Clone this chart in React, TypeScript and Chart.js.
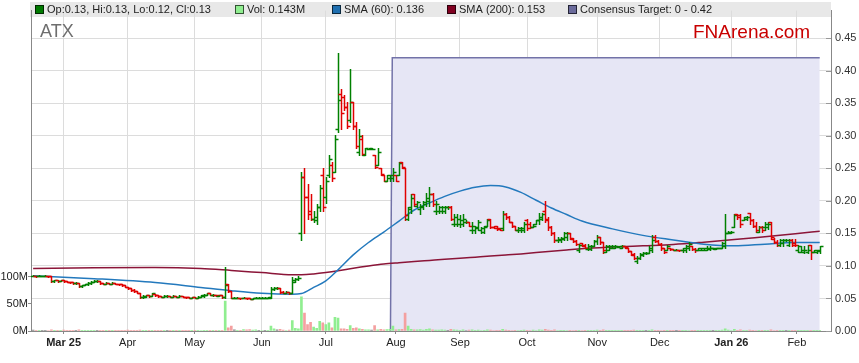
import React, { useEffect, useRef } from "react";
import { Chart, registerables } from "chart.js";
Chart.register(...registerables);

// ---- Data (trading-day index 0 = 17 Feb 2025 ... 258 = 12 Feb 2026) ----
const monthIdx = [10, 31, 53, 75, 96, 119, 140, 162, 185, 205.5, 229, 250.5];
const monthLabels = ["Mar 25", "Apr", "May", "Jun", "Jul", "Aug", "Sep", "Oct", "Nov", "Dec", "Jan 26", "Feb"];

const opens = [
  .085,.085,.084,.085,.085,.085,.084,.077,.078,.077,
  .078,.077,.076,.075,.074,.074,.069,.070,.072,.074,
  .076,.077,.077,.074,.073,.074,.073,.074,.073,.072,
  .070,.068,.066,.063,.061,.059,.052,.053,.055,.054,
  .057,.055,.054,.053,.054,.054,.053,.054,.053,.054,
  .053,.052,.051,.052,.051,.053,.054,.055,.058,.055,
  .056,.054,.055,.052,.072,.062,.051,.050,.051,.050,
  .051,.050,.049,.050,.051,.050,.051,.051,.051,.064,
  .066,.066,.060,.059,.060,.059,.076,.080,.150,.236,
  .206,.185,.172,.170,.190,.240,.206,.240,.255,.245,
  .310,.365,.360,.345,.325,.352,.315,.275,.295,.270,
  .280,.280,.270,.255,.250,.240,.230,.235,.235,.240,
  .240,.260,.250,.172,.190,.210,.192,.188,.190,.195,
  .200,.210,.185,.185,.185,.185,.190,.190,.165,.165,
  .165,.165,.168,.167,.155,.155,.158,.155,.152,.162,
  .172,.160,.162,.158,.158,.180,.175,.168,.162,.155,
  .155,.155,.170,.165,.160,.165,.170,.172,.185,.172,
  .160,.150,.140,.140,.142,.145,.150,.142,.138,.125,
  .135,.132,.126,.126,.130,.138,.145,.137,.122,.125,
  .127,.128,.129,.128,.130,.127,.123,.117,.108,.112,
  .117,.120,.120,.125,.145,.138,.134,.127,.125,.128,
  .126,.125,.125,.124,.125,.128,.130,.126,.124,.125,
  .124,.125,.126,.127,.126,.127,.128,.130,.150,.150,
  .160,.180,.178,.170,.172,.182,.170,.162,.152,.160,
  .160,.160,.167,.142,.137,.132,.135,.140,.132,.140,
  .135,.125,.122,.122,.122,.132,.122,.122,.125,
];
const highs = [
  .086,.085,.086,.085,.086,.085,.084,.079,.078,.079,
  .078,.077,.076,.076,.075,.074,.071,.073,.075,.077,
  .078,.078,.077,.074,.075,.074,.075,.074,.073,.072,
  .070,.068,.066,.064,.062,.059,.055,.056,.055,.059,
  .057,.055,.054,.055,.055,.054,.055,.054,.055,.054,
  .053,.053,.053,.052,.054,.056,.057,.059,.058,.057,
  .056,.056,.055,.098,.073,.062,.052,.052,.051,.052,
  .051,.051,.051,.052,.052,.052,.052,.052,.067,.067,
  .067,.066,.061,.062,.060,.083,.082,.084,.245,.251,
  .226,.210,.185,.195,.225,.251,.236,.270,.260,.301,
  .427,.372,.362,.352,.402,.352,.321,.311,.301,.281,
  .281,.281,.271,.281,.251,.240,.240,.240,.251,.240,
  .260,.260,.251,.190,.210,.210,.200,.195,.200,.212,
  .222,.212,.200,.192,.192,.192,.192,.192,.180,.180,
  .178,.180,.170,.167,.167,.162,.170,.160,.162,.172,
  .172,.162,.162,.158,.185,.182,.177,.168,.162,.160,
  .160,.167,.172,.167,.165,.170,.182,.182,.200,.175,
  .162,.152,.145,.145,.152,.152,.150,.143,.140,.134,
  .135,.134,.134,.132,.140,.147,.145,.137,.132,.132,
  .132,.132,.131,.132,.131,.127,.123,.120,.115,.120,
  .122,.121,.130,.147,.147,.140,.135,.128,.132,.128,
  .126,.126,.125,.128,.132,.137,.130,.127,.128,.128,
  .127,.130,.130,.128,.128,.128,.137,.180,.154,.154,
  .180,.180,.180,.175,.177,.182,.172,.167,.162,.162,
  .167,.167,.167,.143,.140,.142,.142,.141,.142,.142,
  .142,.132,.130,.130,.132,.132,.124,.124,.130,
];
const lows = [
  .084,.083,.084,.084,.084,.083,.076,.076,.076,.077,
  .076,.075,.074,.073,.073,.067,.068,.070,.071,.073,
  .075,.076,.073,.072,.073,.072,.072,.072,.071,.069,
  .067,.065,.062,.060,.058,.051,.051,.053,.053,.054,
  .054,.053,.052,.053,.053,.052,.053,.052,.052,.052,
  .051,.050,.050,.050,.051,.052,.053,.055,.055,.054,
  .054,.054,.051,.050,.060,.050,.050,.050,.049,.050,
  .049,.049,.049,.050,.050,.050,.051,.051,.051,.063,
  .065,.059,.058,.058,.057,.058,.075,.079,.140,.150,
  .172,.170,.167,.165,.185,.185,.197,.236,.230,.245,
  .306,.310,.340,.312,.321,.311,.281,.270,.270,.270,
  .280,.279,.251,.255,.240,.230,.230,.230,.230,.230,
  .240,.250,.170,.170,.182,.192,.190,.180,.188,.192,
  .192,.192,.180,.182,.182,.182,.188,.170,.162,.162,
  .160,.162,.166,.162,.150,.150,.155,.150,.150,.162,
  .158,.158,.155,.155,.155,.172,.167,.160,.155,.152,
  .152,.152,.155,.158,.160,.165,.165,.170,.167,.155,
  .147,.137,.137,.137,.140,.140,.142,.137,.132,.122,
  .130,.127,.124,.124,.130,.134,.134,.120,.122,.124,
  .127,.127,.129,.127,.128,.122,.117,.110,.105,.110,
  .115,.119,.120,.122,.137,.133,.125,.120,.125,.125,
  .124,.124,.123,.122,.122,.125,.125,.122,.124,.124,
  .124,.124,.124,.126,.126,.127,.127,.127,.150,.150,
  .160,.172,.160,.170,.170,.165,.160,.152,.152,.152,
  .155,.157,.142,.135,.130,.130,.130,.139,.130,.130,
  .130,.122,.122,.120,.120,.110,.122,.120,.120,
];
const closes = [
  .085,.084,.085,.085,.085,.084,.077,.078,.077,.078,
  .077,.076,.075,.074,.074,.069,.070,.072,.074,.076,
  .077,.077,.074,.073,.074,.073,.074,.073,.072,.070,
  .068,.066,.063,.061,.059,.052,.054,.055,.054,.058,
  .055,.054,.053,.054,.054,.053,.054,.053,.054,.053,
  .052,.051,.052,.051,.053,.055,.056,.058,.056,.056,
  .055,.055,.052,.071,.062,.051,.051,.051,.050,.051,
  .050,.049,.050,.051,.051,.051,.051,.052,.065,.066,
  .066,.060,.059,.060,.058,.078,.080,.082,.236,.206,
  .180,.172,.175,.190,.220,.190,.230,.265,.235,.295,
  .355,.335,.345,.315,.352,.315,.285,.300,.272,.281,
  .281,.280,.252,.275,.242,.230,.240,.240,.245,.230,
  .258,.252,.178,.188,.205,.195,.198,.192,.198,.205,
  .210,.195,.195,.190,.190,.190,.190,.172,.175,.172,
  .170,.172,.168,.162,.162,.160,.168,.158,.160,.170,
  .160,.158,.157,.155,.180,.175,.168,.162,.156,.158,
  .158,.165,.158,.160,.162,.170,.175,.180,.170,.160,
  .150,.140,.142,.143,.150,.150,.143,.138,.133,.132,
  .130,.128,.130,.130,.138,.145,.137,.124,.130,.130,
  .130,.130,.130,.130,.129,.123,.118,.112,.112,.118,
  .120,.120,.127,.140,.138,.134,.127,.122,.130,.126,
  .125,.125,.124,.127,.130,.134,.126,.124,.127,.127,
  .127,.128,.128,.127,.128,.128,.135,.150,.152,.152,
  .178,.175,.165,.175,.175,.170,.162,.155,.160,.155,
  .165,.165,.145,.137,.132,.140,.140,.140,.140,.132,
  .132,.130,.125,.125,.125,.122,.124,.123,.130,
];
// volume in millions of shares
const volumes = [
  1.5,0.8,0.5,0.6,0.4,1.0,2.2,0.5,0.6,0.4,
  1.8,0.5,0.4,0.6,0.3,2.0,0.8,0.5,0.7,0.4,
  0.6,0.3,0.5,0.3,0.4,0.3,0.5,0.3,0.4,0.6,
  0.5,1.5,0.6,0.4,0.5,1.8,0.5,0.4,0.3,0.8,
  0.4,0.3,0.3,0.5,0.3,0.4,0.5,0.3,0.4,0.3,
  0.5,1.2,0.4,0.6,0.8,1.0,0.7,1.2,0.8,0.5,
  0.4,0.6,0.8,55,6,9,2,1.2,0.8,2.5,
  2.0,2.5,1.5,2.2,0.8,1.0,0.6,0.8,9,4,
  2,3,1.5,1.0,1.5,19,5,4,63,33,
  12,16,7,5,18,15,12,15,6,25,
  24,4,4,3,10,5,6,4,3,2,
  2,1.5,10,2,3,2,2.5,3,9,2,
  2.5,3,33,9,3,2,2,2.5,1.5,3,
  4,2,1.5,1.5,2,1.5,1.2,3,2,1.5,
  1.2,2,1,1.5,2,1.2,1.5,1,1.2,2,
  1.5,1,1.2,0.8,3,1.5,1.2,1,0.8,1,
  0.8,1.5,1.2,1,1.5,1,2,1.5,3,1.5,
  1.2,2,1,0.8,1.2,1,0.8,1,1.2,0.8,
  1,0.6,0.8,0.6,1.2,1.5,0.8,2,0.8,0.6,
  0.5,0.6,0.4,0.5,0.4,0.8,1.2,1.5,0.8,0.6,
  0.5,0.4,0.8,2,1.2,0.8,1,1.2,0.6,0.5,
  0.4,0.3,0.5,0.6,0.8,1,0.6,0.5,0.4,0.5,
  0.4,0.6,0.5,0.3,0.4,0.5,1.5,4,1.5,1,
  3,1.2,2,0.8,0.6,1.5,1.2,1,0.6,0.8,
  0.6,0.5,2,1,0.8,0.6,0.5,0.4,0.6,0.8,
  0.6,0.5,0.4,0.5,0.6,1.2,0.4,0.3,0.143,
];
const smaIdx = [0,20,40,55,65,75,85,88,92,96,100,105,110,115,120,125,130,135,140,145,150,155,160,165,170,175,180,190,200,210,220,230,240,250,258];
const sma60 = [.085,.0805,.0745,.067,.062,.058,.0565,.0575,.067,.077,.094,.117,.136,.152,.169,.186,.197,.207,.215,.221,.2235,.2215,.213,.201,.189,.179,.169,.157,.147,.140,.1335,.131,.1335,.136,.136];
const sma200 = [.096,.0972,.0975,.096,.093,.0898,.0866,.0866,.0877,.0898,.0925,.0965,.100,.103,.105,.1068,.1085,.1102,.1118,.1135,.1152,.1168,.1185,.1205,.1225,.1245,.1265,.129,.131,.133,.1365,.1405,.145,.1495,.1535];
const consensusIdx = [117.2, 117.8, 258];
const consensusVal = [0, 0.42, 0.42];
const volTicks = [0, 50, 100];
const legendLabels = ["Op:0.13, Hi:0.13, Lo:0.12, Cl:0.13", "Vol: 0.143M", "SMA (60): 0.136", "SMA (200): 0.153", "Consensus Target: 0 - 0.42"];

// ---- Style ----
const FONT = "'Liberation Sans', Arial, sans-serif";
const GREEN = "#008000";
const RED = "#e00000";
const legendColors = ["#007a00", "#90ee90", "#1f6fb0", "#800020", "#6b6b9b"];
const legendX = [35, 235, 332, 447, 568];

export default function App() {
  const ref = useRef<HTMLCanvasElement>(null);
  useEffect(() => {
    const canvas = ref.current!;
    Chart.defaults.font.family = FONT;

    const framePlugin = {
      id: "frame",
      beforeDraw(chart: any) {
        const ctx = chart.ctx;
        ctx.save();
        ctx.fillStyle = "#e8e8e8";
        ctx.fillRect(30, 2, 801, 15);
        ctx.restore();
      },
      afterDatasetsDraw(chart: any) {
        const { ctx, chartArea } = chart;
        const xs = chart.scales.x;
        const ys = chart.scales.y;
        ctx.save();
        ctx.beginPath();
        ctx.rect(chartArea.left, chartArea.top, chartArea.right - chartArea.left, chartArea.bottom - chartArea.top);
        ctx.clip();
        ctx.lineWidth = 1.5;
        ctx.lineCap = "butt";
        for (let i = 0; i < closes.length; i++) {
          const x = Math.round(xs.getPixelForValue(i)) + 0.5;
          const yh = Math.round(ys.getPixelForValue(highs[i]));
          const yl = Math.round(ys.getPixelForValue(lows[i]));
          const yo = Math.round(ys.getPixelForValue(opens[i])) + 0.5;
          const yc = Math.round(ys.getPixelForValue(closes[i])) + 0.5;
          ctx.strokeStyle = closes[i] >= opens[i] ? GREEN : RED;
          ctx.beginPath();
          ctx.moveTo(x, yh);
          ctx.lineTo(x, Math.max(yl + 1, yh + 1));
          ctx.moveTo(x - 3, yo);
          ctx.lineTo(x, yo);
          ctx.moveTo(x, yc);
          ctx.lineTo(x + 3, yc);
          ctx.stroke();
        }
        ctx.restore();
      },
      afterDraw(chart: any) {
        const { ctx, chartArea } = chart;
        const ys = chart.scales.y;
        ctx.save();
        ctx.strokeStyle = "#999";
        ctx.lineWidth = 1;
        ys.ticks.forEach((t: any) => {
          const y = Math.round(ys.getPixelForValue(t.value)) + 0.5;
          ctx.beginPath();
          ctx.moveTo(chartArea.right - 5, y);
          ctx.lineTo(chartArea.right, y);
          ctx.stroke();
        });
        ctx.font = `11px ${FONT}`;
        ctx.textBaseline = "middle";
        legendLabels.forEach((lab, k) => {
          const x = legendX[k];
          ctx.fillStyle = legendColors[k];
          ctx.fillRect(x, 5, 9, 9);
          ctx.strokeStyle = "rgba(0,0,0,0.65)";
          ctx.strokeRect(x + 0.5, 5.5, 8, 8);
          ctx.fillStyle = "#222";
          ctx.fillText(lab, x + 12, 10);
        });
        ctx.textBaseline = "alphabetic";
        ctx.font = `18px ${FONT}`;
        ctx.fillStyle = "#6e6e6e";
        ctx.fillText("ATX", 40, 37);
        ctx.font = `19px ${FONT}`;
        ctx.fillStyle = "#c80000";
        ctx.fillText("FNArena.com", 693, 38);
        ctx.restore();
      },
    };

    const volColors = closes.map((c, i) =>
      c > opens[i] ? "#90ee90" : c < opens[i] ? "#f4a0a0" : "#8a8a8a"
    );

    const chart = new Chart(canvas, {
      type: "bar",
      data: {
        datasets: [
          {
            type: "line",
            label: "Consensus",
            data: consensusIdx.map((x, k) => ({ x, y: consensusVal[k] })),
            borderColor: "#7272a8",
            borderWidth: 1.5,
            backgroundColor: "#e6e6f5",
            fill: "origin",
            pointRadius: 0,
            yAxisID: "y",
            order: 10,
          } as any,
          {
            type: "bar",
            label: "Vol",
            data: volumes.map((v, i) => ({ x: i, y: v })),
            backgroundColor: volColors,
            barThickness: 2,
            yAxisID: "yVol",
            order: 5,
          } as any,
          {
            type: "line",
            label: "SMA200",
            data: smaIdx.map((x, k) => ({ x, y: sma200[k] })),
            borderColor: "#8b1538",
            borderWidth: 1.5,
            pointRadius: 0,
            cubicInterpolationMode: "monotone",
            fill: false,
            yAxisID: "y",
            order: 2,
          } as any,
          {
            type: "line",
            label: "SMA60",
            data: smaIdx.map((x, k) => ({ x, y: sma60[k] })),
            borderColor: "#2379bd",
            borderWidth: 1.5,
            pointRadius: 0,
            cubicInterpolationMode: "monotone",
            fill: false,
            yAxisID: "y",
            order: 1,
          } as any,
        ],
      },
      options: {
        responsive: false,
        animation: false,
        devicePixelRatio: 1,
        events: [],
        layout: { padding: { top: 2, left: 0, right: 0, bottom: 0 } },
        plugins: { legend: { display: false }, tooltip: { enabled: false } },
        scales: {
          x: {
            type: "linear",
            offset: false,
            min: -0.7,
            max: 261.7,
            afterBuildTicks: (s: any) => {
              s.ticks = monthIdx.map((v) => ({ value: v }));
            },
            afterFit: (s: any) => {
              s.height = 32;
            },
            ticks: {
              autoSkip: false,
              maxRotation: 0,
              padding: 2,
              color: "#222",
              callback: (v: any) => monthLabels[monthIdx.indexOf(Number(v))],
              font: (c: any) => {
                const lab = c.tick ? monthLabels[monthIdx.indexOf(c.tick.value)] : "";
                return { size: 11, weight: lab && lab.indexOf(" ") > 0 ? "bold" : "normal" };
              },
            },
            grid: { offset: false, color: "#dcdcdc", tickLength: 3, tickColor: "#888" },
            border: { color: "#888" },
          },
          y: {
            type: "linear",
            position: "right",
            min: 0,
            max: 0.4925,
            afterFit: (s: any) => {
              s.width = 28;
            },
            ticks: {
              stepSize: 0.05,
              includeBounds: false,
              padding: 4,
              color: "#333",
              font: { size: 11 },
              callback: (v: any) => Number(v).toFixed(2),
            },
            grid: { color: "#dcdcdc", drawTicks: false },
            border: { color: "#888" },
          },
          yVol: {
            type: "linear",
            position: "left",
            min: 0,
            max: 590.7,
            afterBuildTicks: (s: any) => {
              s.ticks = volTicks.map((v) => ({ value: v }));
            },
            afterFit: (s: any) => {
              s.width = 31;
            },
            ticks: {
              padding: 0,
              color: "#222",
              font: { size: 11 },
              callback: (v: any) => `${v}M`,
            },
            grid: { display: true, drawOnChartArea: false, drawTicks: true, tickLength: 3, tickColor: "#888" },
            border: { color: "#888" },
          },
        },
      } as any,
      plugins: [framePlugin],
    });
    return () => chart.destroy();
  }, []);

  return (
    <div style={{ position: "fixed", left: 0, top: 0, width: 859, height: 363, background: "#fff" }}>
      <canvas ref={ref} width={859} height={363} style={{ width: 859, height: 363, display: "block" }} />
    </div>
  );
}
